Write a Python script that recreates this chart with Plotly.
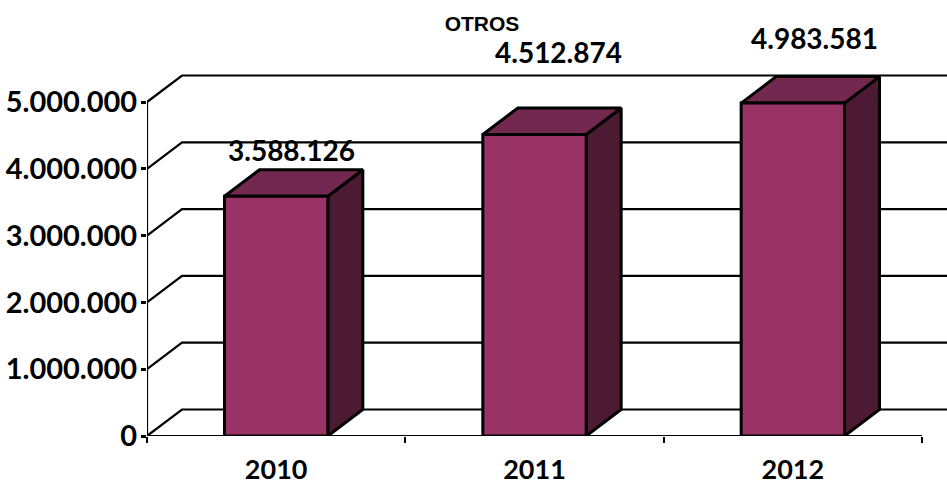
import plotly.graph_objects as go

# Data
years = ["2010", "2011", "2012"]
values = [3588126, 4512874, 4983581]
value_labels = ["3.588.126", "4.512.874", "4.983.581"]
y_ticks = [0, 1000000, 2000000, 3000000, 4000000, 5000000]
y_tick_labels = ["0", "1.000.000", "2.000.000", "3.000.000", "4.000.000", "5.000.000"]
label_shift_x = [15, 24, 22]
label_shift_y = [46, 83, 65]

# Style / geometry of the pseudo-3D projection, in axis units
W, H = 947, 484
L, B = 147, 48
CAT_PX = 258.33
M_PX = 66.8
DEPTH_X = 35 / CAT_PX
DEPTH_Y = 26.5 / M_PX * 1e6
BAR_W = 0.40
X_MAX = (W - L) / CAT_PX
Y_MAX = (H - B) / M_PX * 1e6
FONT = "Lato"
FRONT, TOP, SIDE = "#993366", "#73284F", "#4D1A33"
LW = 3

fig = go.Figure()

def line(xs, ys, width=2.2):
    fig.add_trace(go.Scatter(
        x=xs, y=ys, mode="lines", line=dict(color="black", width=width),
        hoverinfo="skip", showlegend=False))

# Walls and gridlines
for t in y_ticks:
    line([0, DEPTH_X, X_MAX], [t, t + DEPTH_Y, t + DEPTH_Y])

def poly(xs, ys, color):
    fig.add_trace(go.Scatter(
        x=xs + xs[:1], y=ys + ys[:1], mode="lines", fill="toself", fillcolor=color,
        line=dict(color="black", width=LW, simplify=False),
        hoverinfo="skip", showlegend=False))

for i, v in enumerate(values):
    x0 = i + 0.5 - BAR_W / 2
    x1 = i + 0.5 + BAR_W / 2
    poly([x1, x1 + DEPTH_X, x1 + DEPTH_X, x1], [0, DEPTH_Y, v + DEPTH_Y, v], SIDE)
    poly([x0, x0 + DEPTH_X, x1 + DEPTH_X, x1], [v, v + DEPTH_Y, v + DEPTH_Y, v], TOP)
    poly([x0, x1, x1, x0], [0, 0, v, v], FRONT)

# Axis lines stop at the last tick although the plot area runs further
line([0, len(years)], [0, 0])
line([0, 0], [0, y_ticks[-1]])

annotations = [
    dict(x=i + 0.5, y=v, xref="x", yref="y", text=f"<b>{lab}</b>", showarrow=False,
         xshift=label_shift_x[i], yshift=label_shift_y[i],
         font=dict(family=FONT, size=28, color="black"))
    for i, (v, lab) in enumerate(zip(values, value_labels))
]

fig.update_layout(
    width=W, height=H,
    margin=dict(l=L, r=0, t=0, b=B),
    paper_bgcolor="white", plot_bgcolor="rgba(0,0,0,0)",
    showlegend=False,
    title=dict(text="<b>OTROS</b>", x=482 / W, y=1 - 24 / H, xanchor="center", yanchor="middle",
               font=dict(family="Liberation Sans", size=21, color="black")),
    annotations=annotations,
    xaxis=dict(
        range=[0, X_MAX], showgrid=False, zeroline=False, showline=False, automargin=False,
        tickvals=[0.5, 1.5, 2.5], ticktext=[f"<b>{y}</b>" for y in years], ticks="",
        tickfont=dict(family=FONT, size=27, color="black"), ticklabelstandoff=15,
        minor=dict(tickvals=[0, 1, 2, 3], ticks="outside", ticklen=6, tickwidth=2, tickcolor="black"),
    ),
    yaxis=dict(
        range=[0, Y_MAX], showgrid=False, zeroline=False, showline=False, automargin=False,
        tickvals=y_ticks, ticktext=[f"<b>{t}</b>" for t in y_tick_labels],
        ticks="outside", ticklen=5, tickwidth=2.5, tickcolor="black",
        ticklabelstandoff=-2,
        tickfont=dict(family=FONT, size=29, color="black"),
    ),
)

fig.write_html("out.html", config=dict(displayModeBar=False),
               post_script="document.body.style.margin='0';document.body.style.overflow='hidden';")
